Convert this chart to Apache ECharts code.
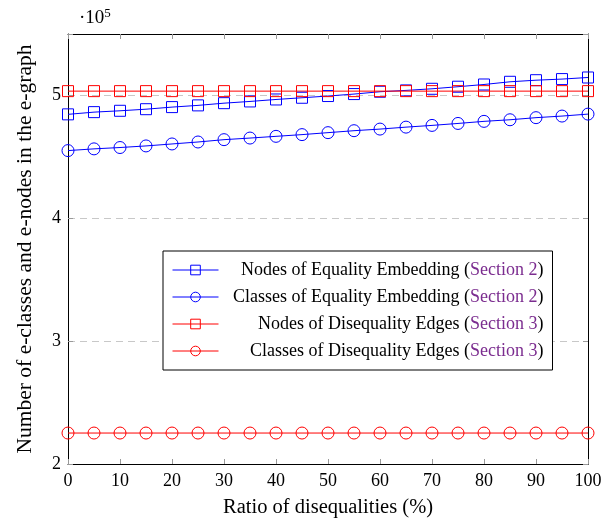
<!DOCTYPE html>
<html>
<head>
<meta charset="utf-8">
<script src="https://cdn.jsdelivr.net/npm/echarts@6/dist/echarts.min.js"></script>
<style>html,body{margin:0;padding:0;background:#fff}#c{width:610px;height:523px}</style>
</head>
<body>
<div id="c"></div>
<script>
const ratios = [0,5,10,15,20,25,30,35,40,45,50,55,60,65,70,75,80,85,90,95,100];
const nodesEquality = [484600,486400,487500,488800,490500,491900,493700,495100,496700,498100,499500,501100,503000,504100,505400,507100,508900,511100,512400,513300,514600];
const classesEquality = [455100,456500,457600,458900,460500,462100,464000,465300,466700,468100,469700,471300,472600,474200,475600,477200,478900,480200,481900,483200,484800];
const nodesDisequality = [503500,503500,503500,503500,503500,503500,503500,503500,503500,503500,503500,503500,503500,503500,503500,503500,503500,503500,503500,503500,503500];
const classesDisequality = [225200,225200,225200,225200,225200,225200,225200,225200,225200,225200,225200,225200,225200,225200,225200,225200,225200,225200,225200,225200,225200];
const seriesNames = ['Nodes of Equality Embedding','Classes of Equality Embedding','Nodes of Disequality Edges','Classes of Disequality Edges'];
const sections = ['Section 2','Section 2','Section 3','Section 3'];
const yTicks = [2,3,4,5];

const FONT = 'Liberation Serif';
const BLUE = '#0000ff', RED = '#ff0000';

function mk(name, data, color, symbol, size) {
  return {
    name, type: 'line', data: ratios.map((r,i)=>[r, data[i]]),
    symbol, symbolSize: size, showSymbol: true,
    color: color,
    lineStyle: {color, width: 1},
    itemStyle: {color: 'rgba(0,0,0,0)', borderColor: color, borderWidth: 1},
    emphasis: {disabled: true},
    animation: false, z: 3
  };
}

const chart = echarts.init(document.getElementById('c'), null, {renderer: 'canvas'});
chart.setOption({
  backgroundColor: '#fff',
  animation: false,
  textStyle: {fontFamily: FONT},
  title: {
    text: '·10{s|5}', left: 74, top: 2,
    textStyle: {fontFamily: FONT, fontSize: 19, fontWeight: 'normal', color: '#000',
      rich: {s: {fontFamily: FONT, fontSize: 13, verticalAlign: 'top', padding: [0,0,9,0], color: '#000'}}}
  },
  grid: {left: 68, right: 22, top: 34, bottom: 58, containLabel: false},
  legend: {
    orient: 'vertical', left: 163, top: 251,
    padding: [8, 9, 8, 9],
    borderColor: '#000', borderWidth: 1, backgroundColor: '#fff',
    itemWidth: 46, itemHeight: 12, itemGap: 5,
    lineStyle: {width: 1},
    itemStyle: {borderWidth: 1},
    data: seriesNames,
    formatter: function(n){ const i = seriesNames.indexOf(n); return '{t|' + n + ' (}{s|' + sections[i] + '}{t|)}'; },
    textStyle: {
      fontFamily: FONT, fontSize: 18, color: '#000', width: 320, lineHeight: 22,
      rich: {
        t: {fontFamily: FONT, fontSize: 18, color: '#000', align: 'right', lineHeight: 22},
        s: {fontFamily: FONT, fontSize: 18, color: '#7b2c8f', align: 'right', lineHeight: 22}
      }
    }
  },
  xAxis: [{
    type: 'value', min: 0, max: 100, interval: 10,
    name: 'Ratio of disequalities (%)', nameLocation: 'middle', nameGap: 33,
    nameTextStyle: {fontFamily: FONT, fontSize: 20.5, color: '#000'},
    axisLine: {show: true, lineStyle: {color: '#000', width: 1}},
    axisTick: {show: true, inside: true, length: 5, lineStyle: {color: '#999'}},
    axisLabel: {fontFamily: FONT, fontSize: 18, color: '#000', margin: 8},
    splitLine: {show: false}
  },{
    type: 'value', min: 0, max: 100, interval: 10, position: 'top',
    axisLine: {show: true, onZero: false, lineStyle: {color: '#000', width: 1}},
    axisTick: {show: true, inside: true, length: 5, lineStyle: {color: '#999'}},
    axisLabel: {show: false}, splitLine: {show: false}
  }],
  yAxis: [{
    type: 'value', min: 200000, max: 550000, interval: 100000,
    name: 'Number of e-classes and e-nodes in the e-graph', nameLocation: 'middle', nameGap: 32,
    nameTextStyle: {fontFamily: FONT, fontSize: 21.5, color: '#000'},
    axisLine: {show: true, lineStyle: {color: '#000', width: 1}},
    axisTick: {show: true, inside: true, length: 5, lineStyle: {color: '#999'}},
    axisLabel: {fontFamily: FONT, fontSize: 18, color: '#000', margin: 7,
      formatter: function(v){ const t = v/100000; return yTicks.indexOf(t) >= 0 ? String(t) : ''; }},
    splitLine: {show: true, lineStyle: {color: '#c8c8c8', type: [7,5], width: 1}}
  },{
    type: 'value', min: 200000, max: 550000, interval: 100000, position: 'right',
    axisLine: {show: true, onZero: false, lineStyle: {color: '#000', width: 1}},
    axisTick: {show: true, inside: true, length: 5, lineStyle: {color: '#999'}},
    axisLabel: {show: false}, splitLine: {show: false}
  }],
  series: [
    mk(seriesNames[0], nodesEquality, BLUE, 'rect', 11),
    mk(seriesNames[1], classesEquality, BLUE, 'circle', 12),
    mk(seriesNames[2], nodesDisequality, RED, 'rect', 11),
    mk(seriesNames[3], classesDisequality, RED, 'circle', 12)
  ]
});
</script>
</body>
</html>
